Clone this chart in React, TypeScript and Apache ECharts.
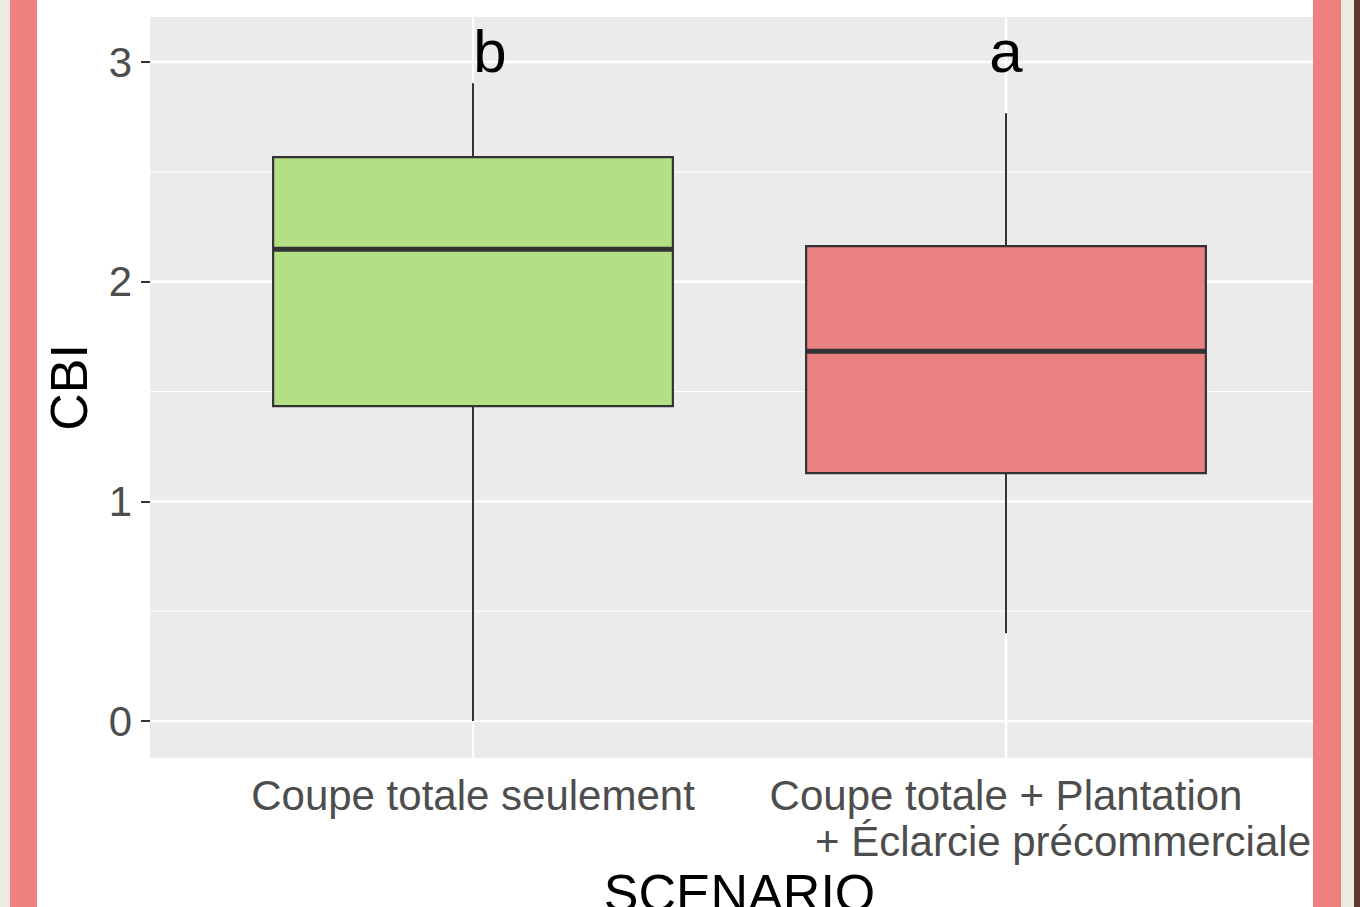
import React, { useEffect, useRef } from "react";
import * as echarts from "echarts";

// ---- data ----
const categories = ["Coupe totale seulement", "Coupe totale + Plantation|+ Éclarcie précommerciale"];
const lowerWhisker = [0.0, 0.4];
const q1 = [1.434, 1.129];
const median = [2.148, 1.684];
const q3 = [2.567, 2.162];
const upperWhisker = [2.904, 2.767];
const letters = ["b", "a"];
const letterY = [3.05, 3.05];
const yTicks = [0, 1, 2, 3];
const yMinorTicks = [0.5, 1.5, 2.5];
const xTicks = [1, 2];

// ---- styles ----
const FONT = "'Liberation Sans', Arial, Helvetica, sans-serif";
const BOX_COLORS = ["#B3E085", "#E88180"];
const BOX_WIDTH = 0.75;

export default function App() {
  const ref = useRef<HTMLDivElement>(null);

  useEffect(() => {
    if (!ref.current) return;
    const chart = echarts.init(ref.current, null, { renderer: "svg" });

    const boxData = categories.map((_, i) => [
      i + 1,
      lowerWhisker[i],
      q1[i],
      median[i],
      q3[i],
      upperWhisker[i],
    ]);
    const hLines = [
      ...yTicks.map((v) => [v, 0]),
      ...yMinorTicks.map((v) => [v, 1]),
    ];
    const letterData = letters.map((l, i) => [i + 1, letterY[i]]);

    const option: any = {
      animation: false,
      backgroundColor: "#FFFFFF",
      grid: {
        left: 150,
        right: 31,
        top: 17,
        bottom: 149,
        show: true,
        backgroundColor: "#EBEBEB",
        borderWidth: 0,
        containLabel: false,
        outerBoundsMode: "none",
      },
      xAxis: {
        type: "value",
        min: 0.394,
        max: 2.606,
        name: "SCENARIO",
        nameLocation: "middle",
        nameGap: 108,
        nameTextStyle: { fontSize: 52, color: "#000000", fontFamily: FONT },
        axisLine: { show: false },
        splitLine: { show: false },
        axisTick: {
          show: true,
          customValues: xTicks,
          length: 10,
          lineStyle: { color: "#333333", width: 2 },
        },
        axisLabel: {
          customValues: xTicks,
          margin: 14,
          color: "#4D4D4D",
          fontSize: 42,
          fontFamily: FONT,
          formatter: (v: number) => {
            const c = categories[Math.round(v) - 1] || "";
            const parts = c.split("|");
            if (parts.length === 1) return "{l1|" + parts[0] + "}";
            return "{l1|" + parts[0] + "}\n{l2|" + parts[1] + "}";
          },
          rich: {
            l1: { fontSize: 42, color: "#4D4D4D", fontFamily: FONT, align: "center", lineHeight: 46 },
            l2: {
              fontSize: 42,
              color: "#4D4D4D",
              fontFamily: FONT,
              align: "center",
              lineHeight: 46,
              padding: [0, 0, 0, 114],
            },
          },
        },
      },
      yAxis: {
        type: "value",
        min: -0.168,
        max: 3.205,
        name: "CBI",
        nameLocation: "middle",
        nameGap: 55,
        nameTextStyle: { fontSize: 52, color: "#000000", fontFamily: FONT },
        axisLine: { show: false },
        splitLine: { show: false },
        axisTick: {
          show: true,
          customValues: yTicks,
          length: 9,
          lineStyle: { color: "#333333", width: 2 },
        },
        axisLabel: {
          customValues: yTicks,
          margin: 18,
          color: "#4D4D4D",
          fontSize: 42,
          fontFamily: FONT,
        },
      },
      series: [
        {
          type: "custom",
          name: "hgrid",
          silent: true,
          z: 1,
          data: hLines,
          encode: { x: -1, y: 0 },
          renderItem: (params: any, api: any) => {
            const cs = params.coordSys;
            const y = api.coord([1, api.value(0)])[1];
            const minor = api.value(1) === 1;
            return {
              type: "line",
              shape: { x1: cs.x, y1: y, x2: cs.x + cs.width, y2: y },
              style: { stroke: "#FFFFFF", lineWidth: minor ? 1.2 : 2.4 },
            };
          },
        },
        {
          type: "custom",
          name: "vgrid",
          silent: true,
          z: 1,
          data: xTicks.map((v) => [v]),
          encode: { x: 0, y: -1 },
          renderItem: (params: any, api: any) => {
            const cs = params.coordSys;
            const x = api.coord([api.value(0), 0])[0];
            return {
              type: "line",
              shape: { x1: x, y1: cs.y, x2: x, y2: cs.y + cs.height },
              style: { stroke: "#FFFFFF", lineWidth: 2.4 },
            };
          },
        },
        {
          type: "custom",
          name: "boxes",
          z: 3,
          data: boxData,
          encode: { x: 0, y: [1, 2, 3, 4, 5] },
          renderItem: (params: any, api: any) => {
            const x = api.value(0);
            const lw = api.coord([x, api.value(1)]);
            const pq1 = api.coord([x, api.value(2)]);
            const pm = api.coord([x, api.value(3)]);
            const pq3 = api.coord([x, api.value(4)]);
            const uw = api.coord([x, api.value(5)]);
            const left = api.coord([x - BOX_WIDTH / 2, 0])[0];
            const right = api.coord([x + BOX_WIDTH / 2, 0])[0];
            const stroke = "#333333";
            return {
              type: "group",
              children: [
                {
                  type: "line",
                  shape: { x1: lw[0], y1: lw[1], x2: pq1[0], y2: pq1[1] },
                  style: { stroke, lineWidth: 2 },
                },
                {
                  type: "line",
                  shape: { x1: pq3[0], y1: pq3[1], x2: uw[0], y2: uw[1] },
                  style: { stroke, lineWidth: 2 },
                },
                {
                  type: "rect",
                  shape: { x: left, y: pq3[1], width: right - left, height: pq1[1] - pq3[1] },
                  style: { fill: BOX_COLORS[params.dataIndex], stroke, lineWidth: 2.2 },
                },
                {
                  type: "line",
                  shape: { x1: left, y1: pm[1], x2: right, y2: pm[1] },
                  style: { stroke, lineWidth: 5 },
                },
              ],
            };
          },
        },
        {
          type: "custom",
          name: "letters",
          z: 4,
          data: letterData,
          encode: { x: 0, y: 1 },
          renderItem: (params: any, api: any) => {
            const p = api.coord([api.value(0), api.value(1)]);
            const dx = params.dataIndex === 0 ? 17 : 0;
            return {
              type: "text",
              x: p[0] + dx,
              y: p[1],
              style: {
                text: letters[params.dataIndex],
                fontSize: 60,
                fontFamily: FONT,
                fill: "#000000",
                align: "center",
                verticalAlign: "middle",
              },
            };
          },
        },
      ],
      graphic: [
        { type: "rect", z: 100, shape: { x: 0, y: 0, width: 10, height: 907 }, style: { fill: "#EDE9E3" } },
        { type: "rect", z: 100, shape: { x: 10, y: 0, width: 27, height: 907 }, style: { fill: "#F08080" } },
        { type: "rect", z: 100, shape: { x: 1313, y: 0, width: 28, height: 907 }, style: { fill: "#F08080" } },
        { type: "rect", z: 100, shape: { x: 1341, y: 0, width: 13, height: 907 }, style: { fill: "#EDE9E3" } },
        { type: "rect", z: 100, shape: { x: 1354, y: 0, width: 6, height: 907 }, style: { fill: "#5C3A2E" } },
      ],
    };

    chart.setOption(option);
    return () => chart.dispose();
  }, []);

  return (
    <div
      ref={ref}
      style={{ position: "absolute", left: 0, top: 0, width: 1360, height: 907, background: "#FFFFFF" }}
    />
  );
}
